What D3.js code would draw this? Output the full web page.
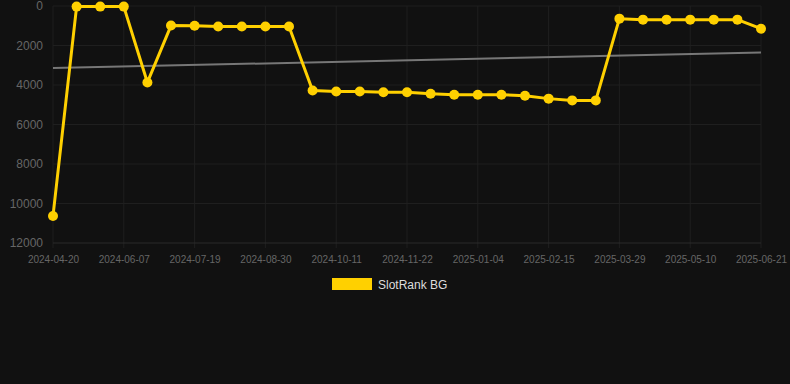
<!DOCTYPE html>
<html>
<head>
<meta charset="utf-8">
<script src="https://cdn.jsdelivr.net/npm/d3@7"></script>
<style>
    html, body { margin: 0; padding: 0; background: #111111; }
    svg { display: block; font-family: "Liberation Sans", Arial, Helvetica, sans-serif; }
</style>
</head>
<body>
<div id="chart"></div>
<script>
// rank per snapshot date (lower is better, axis reversed)
const dates = [
    "2024-04-20", "2024-05-10", "2024-05-24", "2024-06-07", "2024-06-21", "2024-07-05",
    "2024-07-19", "2024-08-02", "2024-08-16", "2024-08-30", "2024-09-13", "2024-09-27",
    "2024-10-11", "2024-10-25", "2024-11-08", "2024-11-22", "2024-12-06", "2024-12-20",
    "2025-01-04", "2025-01-18", "2025-02-01", "2025-02-15", "2025-03-01", "2025-03-15",
    "2025-03-29", "2025-04-12", "2025-04-26", "2025-05-10", "2025-05-24", "2025-06-07",
    "2025-06-21"
];
const rankValues = [
    10630, 30, 30, 30, 3870, 990,
    1000, 1040, 1040, 1040, 1040, 4280,
    4330, 4330, 4370, 4370, 4440, 4490,
    4490, 4490, 4540, 4690, 4780, 4780,
    640, 690, 690, 690, 690, 690,
    1150
];
// trend line end values (first date, last date)
const trendValues = [3140, 2360];
const yTicks = [0, 2000, 4000, 6000, 8000, 10000, 12000];
const seriesName = "SlotRank BG";

const W = 790, H = 384;
const margin = {top: 6, right: 29, bottom: 141, left: 53};
const lineColor = "#ffd000";

const svg = d3.select("#chart").append("svg")
    .attr("width", W)
    .attr("height", H);

svg.append("rect").attr("width", W).attr("height", H).attr("fill", "#111111");

const x = d3.scalePoint()
    .domain(dates)
    .range([margin.left, W - margin.right]);

const y = d3.scaleLinear()
    .domain([0, 12000])
    .range([margin.top, H - margin.bottom]);

const labelDates = dates.filter((d, i) => i % 3 === 0);

// vertical grid
svg.append("g")
    .selectAll("line")
    .data(labelDates)
    .join("line")
    .attr("x1", d => x(d)).attr("x2", d => x(d))
    .attr("y1", margin.top).attr("y2", H - margin.bottom + 5)
    .attr("stroke", "#1f1f1f")
    .attr("stroke-width", 1);

// horizontal grid
svg.append("g")
    .selectAll("line")
    .data(yTicks)
    .join("line")
    .attr("x1", margin.left).attr("x2", W - margin.right)
    .attr("y1", d => y(d)).attr("y2", d => y(d))
    .attr("stroke", d => d === 12000 ? "#2a2a2a" : "#1f1f1f")
    .attr("stroke-width", 1);

// y axis labels
const yAxis = d3.axisLeft(y).tickValues(yTicks).tickSize(0).tickPadding(10).tickFormat(d3.format("d"));
const yG = svg.append("g").attr("transform", `translate(${margin.left},0)`).call(yAxis);
yG.select(".domain").remove();
yG.selectAll("text").attr("fill", "#666666").style("font-size", "12px");

// x axis labels
const xAxis = d3.axisBottom(x).tickValues(labelDates).tickSize(0).tickPadding(13);
const xG = svg.append("g").attr("transform", `translate(0,${H - margin.bottom})`).call(xAxis);
xG.select(".domain").remove();
xG.selectAll("text").attr("fill", "#666666").style("font-size", "10px");

// trend line
svg.append("line")
    .attr("x1", x(dates[0])).attr("y1", y(trendValues[0]))
    .attr("x2", x(dates[dates.length - 1])).attr("y2", y(trendValues[1]))
    .attr("stroke", "#777777")
    .attr("stroke-width", 2);

// series line
const line = d3.line()
    .x((d, i) => x(dates[i]))
    .y(d => y(d));

svg.append("path")
    .datum(rankValues)
    .attr("d", line)
    .attr("fill", "none")
    .attr("stroke", lineColor)
    .attr("stroke-width", 3)
    .attr("stroke-linejoin", "round");

svg.append("g")
    .selectAll("circle")
    .data(rankValues)
    .join("circle")
    .attr("cx", (d, i) => x(dates[i]))
    .attr("cy", d => y(d))
    .attr("r", 5)
    .attr("fill", lineColor);

// legend
const legend = svg.append("g").attr("transform", "translate(332,278)");
legend.append("rect")
    .attr("width", 40).attr("height", 12)
    .attr("fill", lineColor);
legend.append("text")
    .attr("x", 46).attr("y", 11)
    .attr("fill", "#dddddd")
    .style("font-size", "12px")
    .text(seriesName);
</script>
</body>
</html>
